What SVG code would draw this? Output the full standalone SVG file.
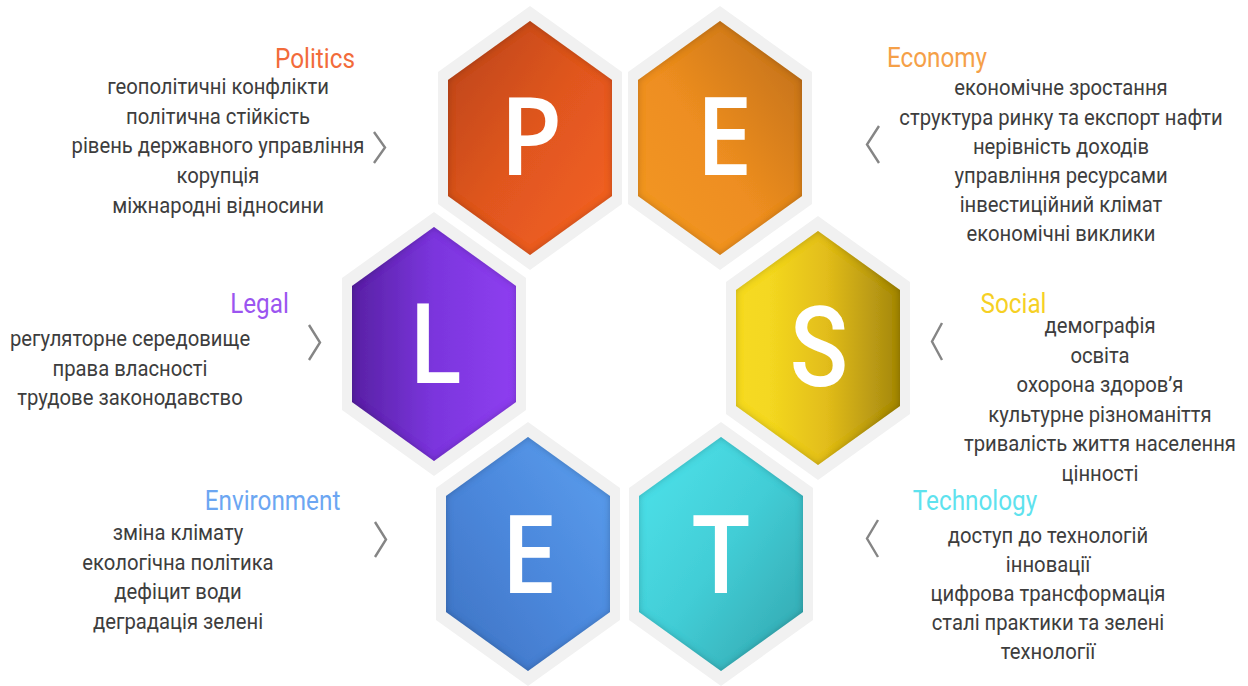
<svg xmlns="http://www.w3.org/2000/svg" width="1248" height="686" viewBox="0 0 1248 686">
<style>
.ring{fill:#f1f1f1}
.hex{filter:url(#inner)}
.big{font-family:"Open Sans","Liberation Sans",sans-serif;font-weight:600;font-size:109px;fill:#ffffff;text-anchor:middle}
.bigr{font-family:Roboto,"Liberation Sans",sans-serif;font-weight:500;font-size:112px;fill:#ffffff;text-anchor:middle}
.lbl{font-family:Roboto,"Liberation Sans",sans-serif;font-size:27px;text-anchor:middle}
.body{font-family:Roboto,"Liberation Sans",sans-serif;font-size:22.5px;fill:#3d3d3d;text-anchor:middle}
.chev{fill:none;stroke:#858585;stroke-width:2.4;stroke-linejoin:miter}
</style>
<defs>
<path id="outer" d="M0,-132 L92,-66 L92,66 L0,132 L-92,66 L-92,-66 Z"/>
<path id="inhex" d="M0,-117 L82,-58 L82,58 L0,117 L-82,58 L-82,-58 Z"/>
<filter id="inner" x="-10%" y="-10%" width="120%" height="120%">
<feGaussianBlur in="SourceAlpha" stdDeviation="3.5" result="b"/>
<feComposite in="SourceAlpha" in2="b" operator="out" result="ring"/>
<feFlood flood-color="#000" flood-opacity="0.45"/>
<feComposite in2="ring" operator="in" result="sh"/>
<feMerge><feMergeNode in="SourceGraphic"/><feMergeNode in="sh"/></feMerge>
</filter>
<linearGradient id="gP" x1="0" y1="0" x2="1" y2="1"><stop offset="0" stop-color="#b9441b"/><stop offset="0.5" stop-color="#e0561f"/><stop offset="1" stop-color="#f56224"/></linearGradient>
<linearGradient id="gE" x1="0" y1="1" x2="1" y2="0"><stop offset="0" stop-color="#f39822"/><stop offset="0.45" stop-color="#ee8e20"/><stop offset="1" stop-color="#bd6d18"/></linearGradient>
<linearGradient id="gL" x1="0" y1="0" x2="1" y2="0"><stop offset="0" stop-color="#5821a4"/><stop offset="0.5" stop-color="#7b35dd"/><stop offset="1" stop-color="#8e3ff0"/></linearGradient>
<linearGradient id="gS" x1="0" y1="0" x2="1" y2="0"><stop offset="0" stop-color="#f6da22"/><stop offset="0.2" stop-color="#f4d820"/><stop offset="0.55" stop-color="#e2bd1a"/><stop offset="1" stop-color="#a3860e"/></linearGradient>
<linearGradient id="gE2" x1="0" y1="1" x2="1" y2="0"><stop offset="0" stop-color="#3d72c2"/><stop offset="0.5" stop-color="#4c88dc"/><stop offset="1" stop-color="#5b9fee"/></linearGradient>
<linearGradient id="gT" x1="0" y1="0" x2="1" y2="1"><stop offset="0" stop-color="#4ee4ec"/><stop offset="0.5" stop-color="#42cdd6"/><stop offset="1" stop-color="#32a4ac"/></linearGradient>
</defs>
<rect width="1248" height="686" fill="#ffffff"/>

<g id="node-politics">
<use href="#outer" class="ring" x="530" y="138"/>
<use href="#inhex" class="hex" x="530" y="138" fill="url(#gP)"/>
<text class="big" transform="translate(531,175) scale(0.94,1)">P</text>
<text class="lbl" fill="#f26b3a" transform="translate(315,68) scale(0.9,1)">Politics</text>
<g class="body" transform="translate(218,0) scale(0.9,1)">
<text x="0" y="94">геополітичні конфлікти</text>
<text x="0" y="123.7">політична стійкість</text>
<text x="0" y="153.4">рівень державного управління</text>
<text x="0" y="183.1">корупція</text>
<text x="0" y="212.8">міжнародні відносини</text>
</g>
</g>

<g id="node-economy">
<use href="#outer" class="ring" x="720" y="138"/>
<use href="#inhex" class="hex" x="720" y="138" fill="url(#gE)"/>
<text class="big" transform="translate(724,175) scale(0.94,1)">E</text>
<text class="lbl" fill="#f5a048" transform="translate(937,67) scale(0.9,1)">Economy</text>
<g class="body" transform="translate(1061,0) scale(0.9,1)">
<text x="0" y="95.5">економічне зростання</text>
<text x="0" y="124.7">структура ринку та експорт нафти</text>
<text x="0" y="153.9">нерівність доходів</text>
<text x="0" y="183.1">управління ресурсами</text>
<text x="0" y="212.3">інвестиційний клімат</text>
<text x="0" y="241.5">економічні виклики</text>
</g>
</g>

<g id="node-legal">
<use href="#outer" class="ring" x="434" y="344"/>
<use href="#inhex" class="hex" x="434" y="344" fill="url(#gL)"/>
<text class="bigr" transform="translate(436,383) scale(0.84,1)">L</text>
<text class="lbl" fill="#9b55f0" transform="translate(259.5,313) scale(0.9,1)">Legal</text>
<g class="body" transform="translate(130,0) scale(0.9,1)">
<text x="0" y="346">регуляторне середовище</text>
<text x="0" y="375.5">права власності</text>
<text x="0" y="405">трудове законодавство</text>
</g>
</g>

<g id="node-social">
<use href="#outer" class="ring" x="818" y="348"/>
<use href="#inhex" class="hex" x="818" y="348" fill="url(#gS)"/>
<text class="bigr" transform="translate(819,386) scale(0.86,1)">S</text>
<text class="lbl" fill="#f6d024" transform="translate(1013.5,313) scale(0.9,1)">Social</text>
<g class="body" transform="translate(1100,0) scale(0.9,1)">
<text x="0" y="333.5">демографія</text>
<text x="0" y="363">освіта</text>
<text x="0" y="392.5">охорона здоров’я</text>
<text x="0" y="422">культурне різноманіття</text>
<text x="0" y="451.5">тривалість життя населення</text>
<text x="0" y="481">цінності</text>
</g>
</g>

<g id="node-environment">
<use href="#outer" class="ring" x="528" y="554"/>
<use href="#inhex" class="hex" x="528" y="554" fill="url(#gE2)"/>
<text class="big" transform="translate(529,593) scale(0.94,1)">E</text>
<text class="lbl" fill="#6ca6f2" transform="translate(272.5,510) scale(0.9,1)">Environment</text>
<g class="body" transform="translate(178,0) scale(0.9,1)">
<text x="0" y="540">зміна клімату</text>
<text x="0" y="569.7">екологічна політика</text>
<text x="0" y="599.4">дефіцит води</text>
<text x="0" y="629">деградація зелені</text>
</g>
</g>

<g id="node-technology">
<use href="#outer" class="ring" x="721" y="554"/>
<use href="#inhex" class="hex" x="721" y="554" fill="url(#gT)"/>
<text class="big" transform="translate(721,593) scale(0.94,1)">T</text>
<text class="lbl" fill="#5ee2ee" transform="translate(975,510) scale(0.9,1)">Technology</text>
<g class="body" transform="translate(1048,0) scale(0.9,1)">
<text x="0" y="543">доступ до технологій</text>
<text x="0" y="572">інновації</text>
<text x="0" y="601">цифрова трансформація</text>
<text x="0" y="630">сталі практики та зелені</text>
<text x="0" y="659">технології</text>
</g>
</g>

<g id="connectors">
<polyline class="chev" points="374,132 385,147.5 374,163"/>
<polyline class="chev" points="879,126 867,144.5 879,163"/>
<polyline class="chev" points="309,325 320,342.5 309,360"/>
<polyline class="chev" points="942,323 932,341.5 942,360"/>
<polyline class="chev" points="375,522 386,539.5 375,557"/>
<polyline class="chev" points="878,520 867,538.5 878,557"/>
</g>
</svg>
